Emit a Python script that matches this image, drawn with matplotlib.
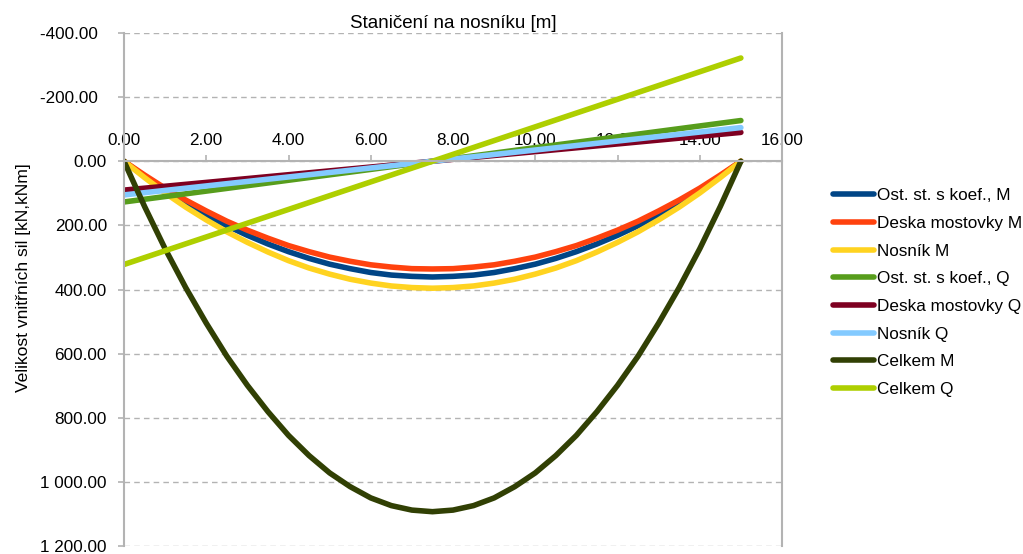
import numpy as np
import matplotlib
matplotlib.use("Agg")
import matplotlib.pyplot as plt
from matplotlib.ticker import FuncFormatter, MultipleLocator

plt.rcParams["font.family"] = ["Liberation Sans", "DejaVu Sans"]
plt.rcParams["font.size"] = 12.3

# station along the beam [m]
x_m = [0.0, 0.5, 1.0, 1.5, 2.0, 2.5, 3.0, 3.5, 4.0, 4.5, 5.0, 5.5, 6.0, 6.5, 7.0, 7.5,
       8.0, 8.5, 9.0, 9.5, 10.0, 10.5, 11.0, 11.5, 12.0, 12.5, 13.0, 13.5, 14.0, 14.5, 15.0]
x_q = [0.0, 15.0]

# bending moments [kNm]
ost_M = [0, 47, 90, 130, 167, 201, 231, 258, 282, 303, 321, 335, 347, 355, 359, 361,
         359, 355, 347, 335, 321, 303, 282, 258, 231, 201, 167, 130, 90, 47, 0]
deska_M = [0, 43, 84, 121, 155, 187, 215, 240, 263, 282, 299, 312, 323, 330, 335, 336,
           335, 330, 323, 312, 299, 282, 263, 240, 215, 187, 155, 121, 84, 43, 0]
nosnik_M = [0, 51, 99, 143, 183, 220, 253, 283, 310, 333, 352, 368, 380, 389, 394, 396,
            394, 389, 380, 368, 352, 333, 310, 283, 253, 220, 183, 143, 99, 51, 0]
celkem_M = [0, 141, 273, 394, 505, 608, 699, 781, 855, 918, 972, 1015, 1050, 1074, 1088, 1093,
            1088, 1074, 1050, 1015, 972, 918, 855, 781, 699, 608, 505, 394, 273, 141, 0]

# shear forces [kN]
ost_Q = [127, -127]
deska_Q = [90, -90]
nosnik_Q = [105, -105]
celkem_Q = [322, -322]

series = [
    (x_m, ost_M, "Ost. st. s koef., M", "#004586"),
    (x_m, deska_M, "Deska mostovky M", "#ff420e"),
    (x_m, nosnik_M, "Nosník M", "#ffd320"),
    (x_q, ost_Q, "Ost. st. s koef., Q", "#579d1c"),
    (x_q, deska_Q, "Deska mostovky Q", "#7e0021"),
    (x_q, nosnik_Q, "Nosník Q", "#83caff"),
    (x_m, celkem_M, "Celkem M", "#314004"),
    (x_q, celkem_Q, "Celkem Q", "#aecf00"),
]

fig = plt.figure(figsize=(10.23, 5.54), dpi=100)
ax = fig.add_axes([124 / 1023, 8 / 554, 658 / 1023, 513 / 554])

for xs, ys, lab, col in series:
    ax.plot(xs, ys, color=col, lw=4, label=lab, solid_capstyle="round", solid_joinstyle="round")


def ylab(v, p):
    s = f"{v:,.2f}".replace(",", " ")
    if v < 0:
        s += "\u2007"  # negatives sit a bit further left in the original
    return s


ax.set_xlim(0, 16)
ax.set_ylim(1200, -400)
ax.xaxis.set_major_locator(MultipleLocator(2))
ax.yaxis.set_major_locator(MultipleLocator(200))
ax.xaxis.set_major_formatter(FuncFormatter(lambda v, p: f"{v:.2f}"))
ax.yaxis.set_major_formatter(FuncFormatter(ylab))

grey = "#b3b3b3"
ax.grid(axis="y", color=grey, ls=(0, (4, 3)), lw=1)
ax.set_axisbelow(True)

ax.xaxis.tick_top()
ax.spines["top"].set_position(("data", 0))
ax.spines["bottom"].set_visible(False)
for s in ["top", "left", "right"]:
    ax.spines[s].set_color(grey)
    ax.spines[s].set_linewidth(1.5)
ax.tick_params(axis="x", colors=grey, labelcolor="black", length=4.3, pad=5, width=1.2)
ax.tick_params(axis="y", colors=grey, labelcolor="black", length=4.3, pad=8, width=1.2)

ax.set_title("Staničení na nosníku [m]", fontsize=13.5, pad=3.6)
ax.set_ylabel("Velikost vnitřních sil [kN,kNm]", fontsize=12.6)
ax.yaxis.set_label_coords(-0.142, 0.523)

fig.legend(loc="upper left", bbox_to_anchor=(833 / 1023, 0.660), frameon=False,
           borderpad=0, borderaxespad=0, handlelength=2.4, handletextpad=0.15,
           labelspacing=0.74, fontsize=12.3)

fig.savefig("out.png", dpi=100)
